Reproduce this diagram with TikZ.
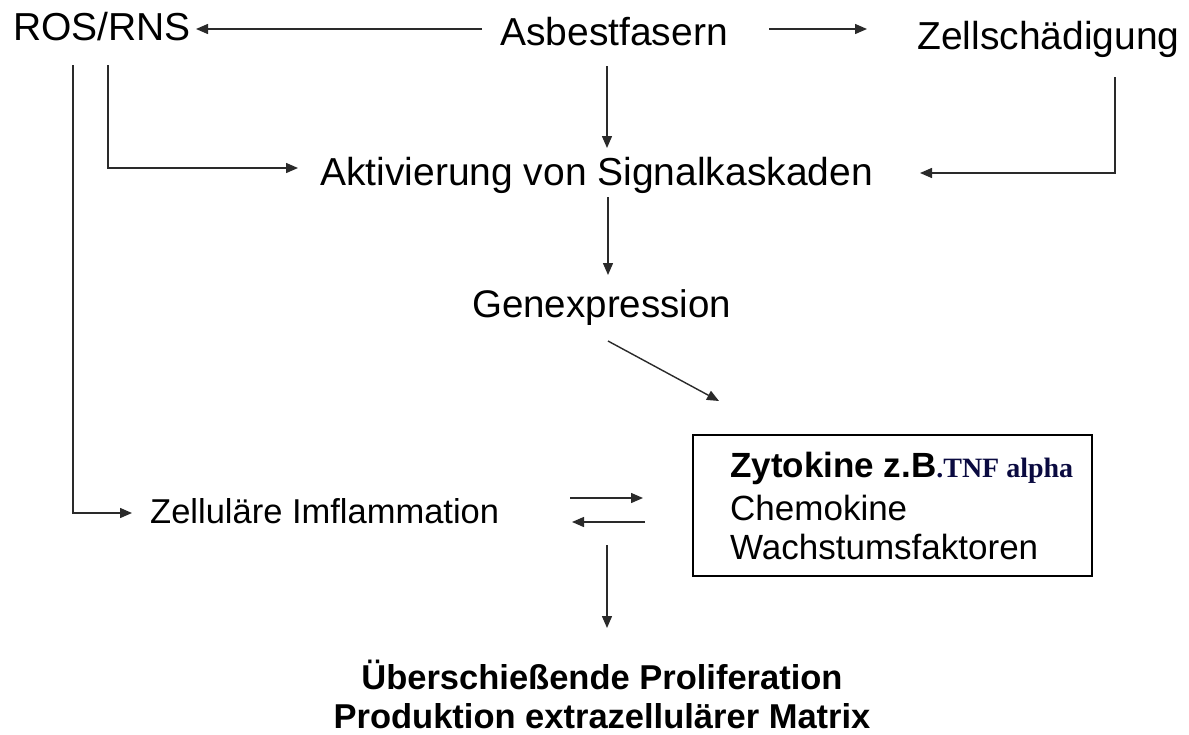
\documentclass[tikz,border=0pt]{standalone}
\usepackage{fontspec}
\setmainfont{Liberation Sans}
\newfontfamily\tnr{Liberation Serif}
\usetikzlibrary{arrows.meta}
\definecolor{navy}{HTML}{0A0A40}
\definecolor{lin}{HTML}{2A2A2A}
\begin{document}
\begin{tikzpicture}[x=1pt,y=-1pt,
  lbl/.style={anchor=base west,inner sep=0pt,font=\fontsize{39}{44}\selectfont},
  sml/.style={anchor=base west,inner sep=0pt,font=\fontsize{35}{40}\selectfont},
  arr/.style={draw=lin,line width=1.4pt,-{Triangle[length=12pt,width=10pt]}},
  ln/.style={draw=lin,line width=1.4pt}]
\useasboundingbox (0,0) rectangle (1189,734);
% nodes
\node[lbl] (ros) at (13,40) {ROS/RNS};
\node[lbl] (asb) at (500,45) {Asbestfasern};
\node[lbl] (zell) at (917,49) {Zellschädigung};
\node[lbl] (akt) at (320,185) {Aktivierung von Signalkaskaden};
\node[lbl,font=\fontsize{38.5}{44}\selectfont] (gen) at (472,317) {Genexpression};
\node[sml,font=\fontsize{34.5}{40}\selectfont] (imf) at (150,523) {Zelluläre Imflammation};
\draw[line width=2.4pt] (693,435) rectangle (1092,576);
\node[sml] (zyt) at (730,477) {\textbf{Zytokine z.B}{\tnr\bfseries\fontsize{28}{32}\selectfont\color{navy}.TNF alpha}};
\node[sml] (chem) at (730,520) {Chemokine};
\node[sml] (wach) at (730,559) {Wachstumsfaktoren};
\node[anchor=base,inner sep=0pt,font=\fontsize{34.5}{40}\selectfont\bfseries] (ueb) at (602,689) {Überschießende Proliferation};
\node[anchor=base,inner sep=0pt,font=\fontsize{34.5}{40}\selectfont\bfseries] (prod) at (602,728) {Produktion extrazellulärer Matrix};
% connector end points
\coordinate (a1) at (482,29);  \coordinate (r1) at (196,29);
\coordinate (a2) at (769,29);  \coordinate (z1) at (867,29);
\coordinate (a3) at (607,66);  \coordinate (k1) at (607,148);
\coordinate (r2) at (108,65);  \coordinate (k2) at (298,168);
\coordinate (r3) at (73,65);   \coordinate (i1) at (132,513);
\coordinate (z2) at (1115,77); \coordinate (k3) at (920,173);
\coordinate (k4) at (608,197); \coordinate (g1) at (608,275);
\coordinate (g2) at (608,341); \coordinate (b1) at (719,401);
\coordinate (i2) at (570,498); \coordinate (b2) at (643,498);
\coordinate (b3) at (645,522); \coordinate (i3) at (572,522);
\coordinate (b4) at (607,545); \coordinate (u1) at (607,628);
% connectors
\draw[arr] (a1) -- (r1);
\draw[arr] (a2) -- (z1);
\draw[arr] (a3) -- (k1);
\draw[arr] (r2) |- (k2);
\draw[arr] (r3) |- (i1);
\draw[arr] (z2) |- (k3);
\draw[arr] (k4) -- (g1);
\draw[arr] (g2) -- (b1);
\draw[arr] (i2) -- (b2);
\draw[arr] (b3) -- (i3);
\draw[arr] (b4) -- (u1);
\end{tikzpicture}
\end{document}
